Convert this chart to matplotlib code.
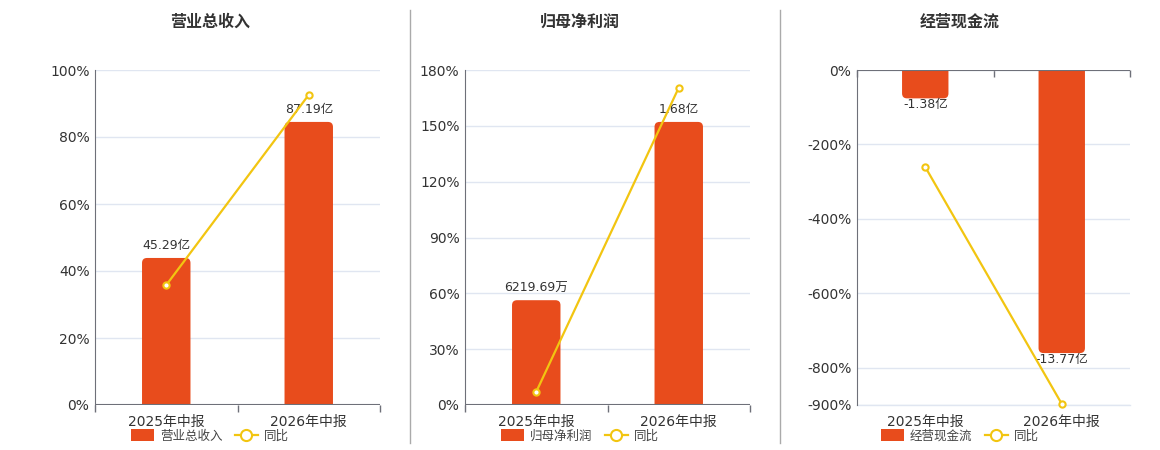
import matplotlib
matplotlib.use("Agg")
import matplotlib.pyplot as plt
from matplotlib.patches import FancyBboxPatch, Patch
from matplotlib.lines import Line2D
from matplotlib.ticker import FuncFormatter

plt.rcParams['font.family'] = ['DejaVu Sans', 'Noto Sans CJK SC']

categories = ["2025年中报", "2026年中报"]

titles = ["营业总收入", "归母净利润", "经营现金流"]

revenue_vals = [45.29, 87.19]
revenue_labels = ["45.29亿", "87.19亿"]
revenue_yoy = [35.8, 92.6]

profit_vals = [0.621969, 1.68]
profit_labels = ["6219.69万", "1.68亿"]
profit_yoy = [7.1, 170.5]

cash_vals = [-1.38, -13.77]
cash_labels = ["-1.38亿", "-13.77亿"]
cash_yoy = [-260.6, -897.0]

yticks_list = [
    [0, 20, 40, 60, 80, 100],
    [0, 30, 60, 90, 120, 150, 180],
    [-900, -800, -600, -400, -200, 0],
]
ylims = [(0, 100), (0, 180), (-900, 0)]

BAR = "#e84c1c"
LINE = "#f2c511"
GRID = "#e0e6f1"
AXIS = "#6e7079"
TXT = "#333333"

W, H = 1160, 450
fig = plt.figure(figsize=(W / 100, H / 100), dpi=100)

panels = [
    dict(x0=95, x1=380, vals=revenue_vals, labels=revenue_labels, yoy=revenue_yoy, tcx=210),
    dict(x0=465, x1=750, vals=profit_vals, labels=profit_labels, yoy=profit_yoy, tcx=580),
    dict(x0=857, x1=1130, vals=cash_vals, labels=cash_labels, yoy=cash_yoy, tcx=960),
]
y_top, y_bot = 70, 405

for i, p in enumerate(panels):
    rect = [p['x0'] / W, 1 - y_bot / H, (p['x1'] - p['x0']) / W, (y_bot - y_top) / H]
    ax = fig.add_axes(rect)
    ax.set_zorder(1)
    ax2 = ax.twinx()
    ax2.set_zorder(2)
    ax2.patch.set_visible(False)

    x = list(range(len(categories)))
    neg = p['vals'][0] < 0
    m = max(abs(v) for v in p['vals'])
    frac = 0.845
    if neg:
        ax2.set_ylim(-m / frac, 0)
    else:
        ax2.set_ylim(0, m / frac)
    ax2.set_xlim(-0.5, 1.5)
    ax.set_xlim(-0.5, 1.5)
    ax.set_ylim(*ylims[i])

    bars = ax2.bar(x, p['vals'], width=0.34, color=BAR)
    axw_px = p['x1'] - p['x0']
    axh_px = y_bot - y_top
    yr = ax2.get_ylim()[1] - ax2.get_ylim()[0]
    dx_per_px = 2.0 / axw_px
    dy_per_px = yr / axh_px
    r_px = 5
    for b in bars:
        bx, by = b.get_x(), b.get_y()
        bw, bh = b.get_width(), b.get_height()
        b.set_visible(False)
        ext = r_px * 2 * dy_per_px
        if bh >= 0:
            y0, hh = by - ext, bh + ext
        else:
            y0, hh = by + bh, -bh + ext
        fp = FancyBboxPatch((bx, y0), bw, hh,
                            boxstyle="round,pad=0,rounding_size=%f" % (r_px * dx_per_px),
                            mutation_aspect=dy_per_px / dx_per_px,
                            facecolor=BAR, edgecolor='none')
        ax2.add_patch(fp)
    for xi, v, lab in zip(x, p['vals'], p['labels']):
        if v >= 0:
            ax2.annotate(lab, (xi, v), xytext=(0, 4), textcoords='offset points',
                         ha='center', va='bottom', fontsize=9, color=TXT)
        else:
            ax2.annotate(lab, (xi, v), xytext=(0, 0), textcoords='offset points',
                         ha='center', va='top', fontsize=9, color=TXT)
    ax2.axis('off')
    ax2.axhline(0, color=AXIS, lw=1.5, zorder=4)

    ax2.plot(x, p['yoy'], transform=ax.transData, color=LINE, lw=1.6, marker='o',
             markersize=4.5, markerfacecolor='white', markeredgecolor=LINE,
             markeredgewidth=1.5, zorder=6, clip_on=False)

    ax.set_yticks(yticks_list[i])
    ax.yaxis.set_major_formatter(FuncFormatter(lambda v, pos: f"{int(v)}%"))
    ax.grid(axis='y', color=GRID, lw=1)
    ax.set_axisbelow(True)
    if neg:
        ax.axhline(ylims[i][0], color=GRID, lw=1, clip_on=False, zorder=0)
    ax.tick_params(axis='y', length=0, labelsize=10, labelcolor=TXT, pad=4)
    ax.set_xticks(x)
    ax.set_xticklabels(categories)
    ax.set_xticks([-0.5, 0.5, 1.5], minor=True)
    ax.tick_params(axis='x', which='major', length=0, labelsize=10, labelcolor=TXT, pad=7,
                   bottom=False, top=False, labelbottom=True, labeltop=False)
    for s in ['top', 'right', 'bottom']:
        ax.spines[s].set_visible(False)
    ax.spines['left'].set_color(AXIS)
    if neg:
        ax.tick_params(axis='x', which='minor', top=True, bottom=False, direction='in',
                       length=5, color=AXIS, width=1)
    else:
        ax.tick_params(axis='x', which='minor', top=False, bottom=True, direction='out',
                       length=5, color=AXIS, width=1)

    fig.text(p['tcx'] / W, 1 - 22 / H, titles[i], ha='center', va='center',
             fontsize=11.5, fontweight='bold', color=TXT)

    handles = [Patch(facecolor=BAR, edgecolor='none'),
               Line2D([0], [0], color=LINE, lw=1.6, marker='o', markersize=8,
                      markerfacecolor='white', markeredgecolor=LINE, markeredgewidth=1.5)]
    fig.legend(handles, [titles[i], "同比"], loc='center', ncol=2,
               bbox_to_anchor=(p['tcx'] / W, 1 - 436 / H), frameon=False,
               fontsize=9, handlelength=1.8, handleheight=1.1, columnspacing=1.0,
               handletextpad=0.5, labelcolor='#444444')

for xd in [410, 780]:
    fig.add_artist(Line2D([xd / W, xd / W], [1 - 10 / H, 1 - 443 / H], color='#aaaaaa', lw=1))

fig.savefig("out.png", dpi=100, facecolor='white')
